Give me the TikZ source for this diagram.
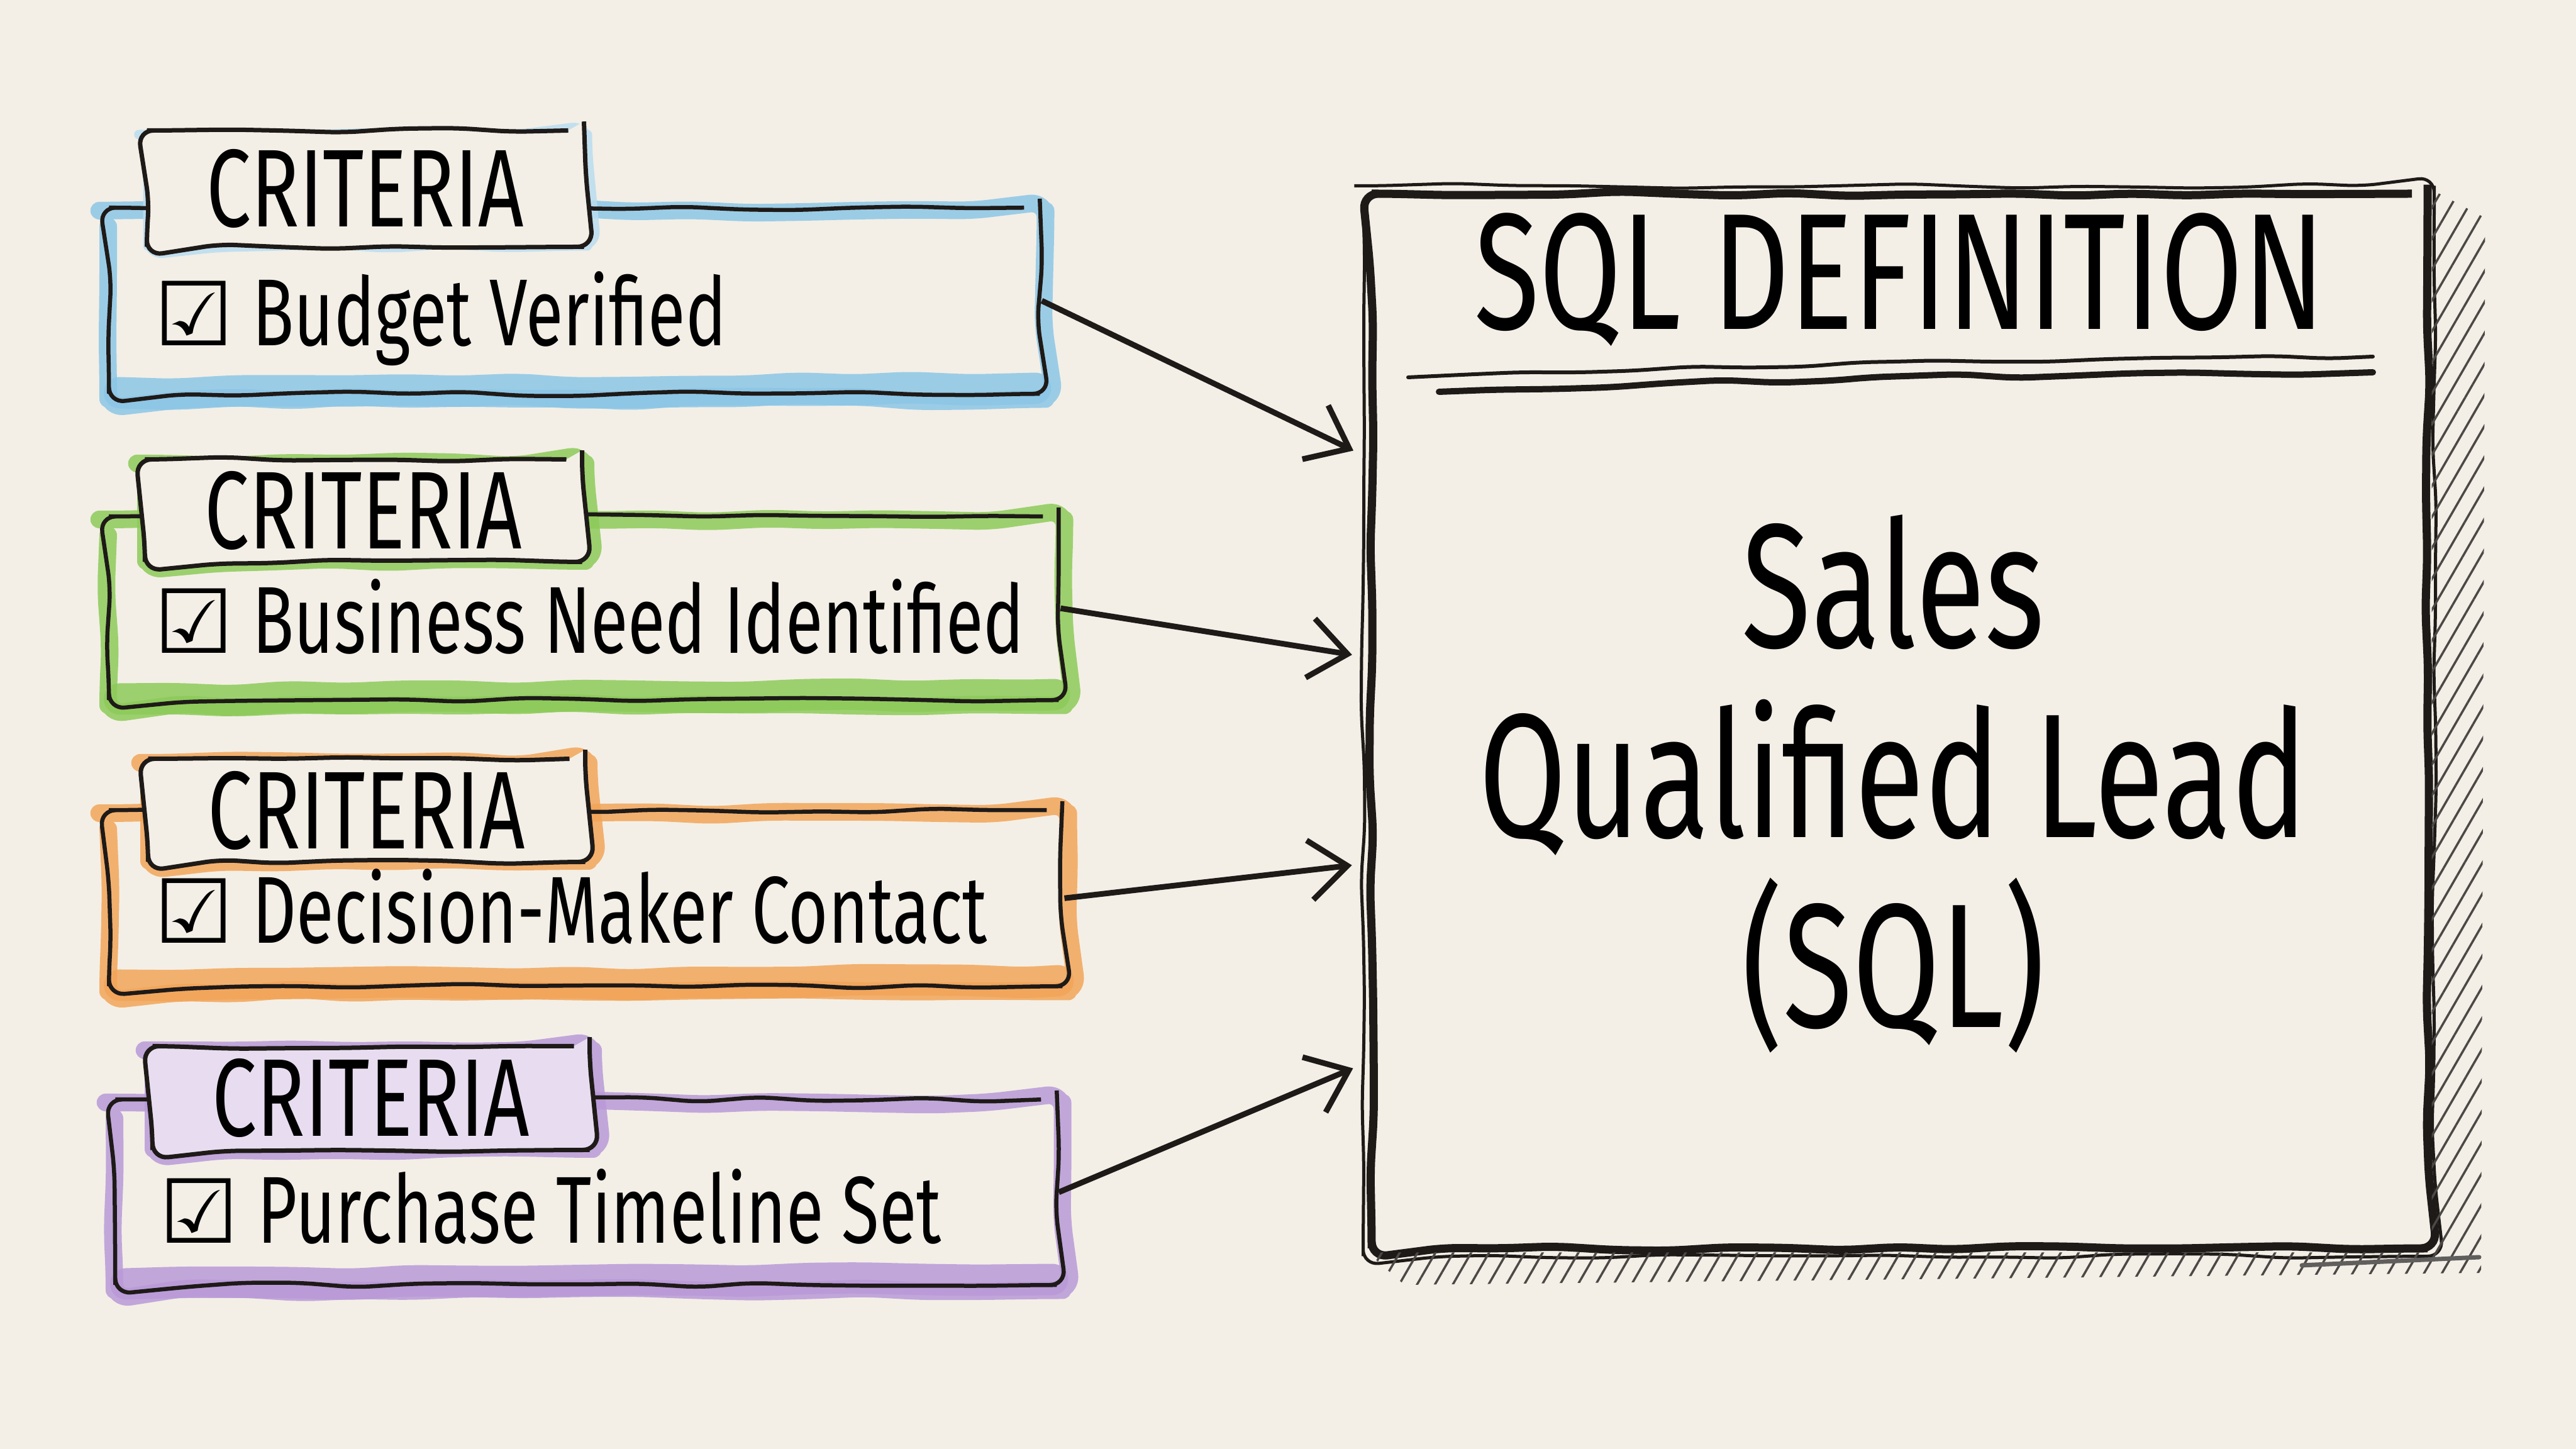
\documentclass[tikz,border=0pt]{standalone}
\usepackage{fontspec}
\newfontfamily\hand[FakeStretch=0.72]{Fira Sans}
\newfontfamily\boxfont{DejaVu Sans}
\usetikzlibrary{arrows.meta,calc,decorations.pathmorphing,patterns.meta,positioning}

\definecolor{paper}{HTML}{F3EFE6}
\definecolor{ink}{HTML}{1E1A18}
\definecolor{bluemk}{HTML}{8CC6E6}
\definecolor{greenmk}{HTML}{8DCB5A}
\definecolor{orangemk}{HTML}{F2A55A}
\definecolor{purplemk}{HTML}{B99AD8}
\definecolor{purpletab}{HTML}{E8DDF0}

\pgfdeclarelayer{paper}
\pgfdeclarelayer{marks}
\pgfsetlayers{paper,marks,main}

\newcommand{\chk}{{\boxfont\fontsize{40}{40}\selectfont ☑}\hspace{0.3cm}}

\tikzset{
  sketch/.style={decorate, decoration={random steps, segment length=0.9cm, amplitude=0.04cm}, rounded corners=0.25cm},
  marker/.style={line width=0.28cm, draw opacity=0.85, line cap=round, line join=round, sketch},
  critbox/.style={draw=ink, line width=0.065cm, anchor=north west, inner sep=0pt, sketch},
  tabbox/.style={draw=ink, fill=paper, line width=0.07cm, anchor=north west, inner sep=0pt,
    minimum width=6.95cm, font=\hand\fontsize{50}{54}\selectfont, sketch},
  itemtext/.style={anchor=base west, inner sep=0pt, font=\hand\fontsize{43}{47}\selectfont},
  sqlbox/.style={draw=ink, line width=0.13cm, minimum width=16.79cm, minimum height=16.77cm, inner sep=0pt, sketch},
  arr/.style={draw=ink, line width=0.09cm, shorten >=0.25cm,
    -{Straight Barb[length=0.6cm,width=0.95cm,line width=0.09cm]}},
}

\begin{document}
\pgfmathsetseed{7}
\begin{tikzpicture}
\useasboundingbox (0,0) rectangle (40.96,23.04);

% criteria cards
\node[critbox, minimum width=14.8cm, minimum height=2.96cm] (crit1) at (1.70,19.77) {};
\node[tabbox, minimum height=1.85cm] (tab1) at (2.30,21.0) {CRITERIA};
\node[itemtext] (item1) at ([xshift=0.75cm,yshift=0.8cm]crit1.south west) {\chk Budget Verified};

\node[critbox, minimum width=15.1cm, minimum height=2.92cm] (crit2) at (1.70,14.86) {};
\node[tabbox, minimum height=1.63cm] (tab2) at (2.27,15.77) {CRITERIA};
\node[itemtext] (item2) at ([xshift=0.75cm,yshift=0.78cm]crit2.south west) {\chk Business Need Identified};

\node[critbox, minimum width=15.16cm, minimum height=2.8cm] (crit3) at (1.70,10.19) {};
\node[tabbox, minimum height=1.64cm] (tab3) at (2.32,11.01) {CRITERIA};
\node[itemtext] (item3) at ([xshift=0.75cm,yshift=0.72cm]crit3.south west) {\chk Decision-Maker Contact};

\node[critbox, minimum width=14.97cm, minimum height=2.95cm] (crit4) at (1.80,5.59) {};
\node[tabbox, fill=purpletab, minimum height=1.65cm] (tab4) at (2.39,6.44) {CRITERIA};
\node[itemtext] (item4) at ([xshift=0.73cm,yshift=0.7cm]crit4.south west) {\chk Purchase Timeline Set};

% target box
\node[sqlbox] (sql) at (30.205,11.575) {};
\draw[ink, line width=0.05cm, sketch] ([shift={(-0.07,0.06)}]sql.north west) rectangle ([shift={(0.04,-0.06)}]sql.south east);
\node[anchor=base, inner sep=0pt, font=\hand\fontsize{75}{75}\selectfont] (sqltitle) at ([yshift=-2.22cm]sql.north) {SQL DEFINITION};
\draw[ink, line width=0.06cm, line cap=round, sketch] (22.39,17.04) -- (30.5,17.3) -- (37.73,17.37);
\draw[ink, line width=0.1cm, line cap=round, sketch] (22.88,16.81) -- (30.0,17.05) -- (37.73,17.12);
\node[align=center, inner sep=0pt, font=\hand\fontsize{80}{86}\selectfont] (sqlname) at ([xshift=-0.1cm,yshift=-1.0cm]sql.center) {Sales\\Qualified Lead\\(SQL)};

% hatched shadow
\fill[pattern={Lines[angle=60,distance=7pt,line width=1pt]}, pattern color=ink!80]
  (sql.north east) -- ++(0.85,-0.45) -- (39.45,2.8) -- (22.33,2.61) -- (sql.south west) -- (sql.south east) -- cycle;
\draw[ink!70, line width=0.07cm, line cap=round] (36.6,2.92) -- (39.42,3.05);

% arrows into the definition
\coordinate (in1) at ($(sql.north west)!0.252!(sql.south west)$);
\coordinate (in2) at ($(sql.north west)!0.44!(sql.south west)$);
\coordinate (in3) at ($(sql.north west)!0.634!(sql.south west)$);
\coordinate (in4) at ($(sql.north west)!0.821!(sql.south west)$);
\draw[arr] (crit1.east) -- (in1);
\draw[arr] (crit2.east) -- (in2);
\draw[arr] (crit3.east) -- (in3);
\draw[arr] (crit4.east) -- (in4);

% marker strokes
\begin{pgfonlayer}{marks}
\draw[marker, bluemk] ([shift={(0.02,-0.08)}]crit1.north west) rectangle ([shift={(0.06,-0.05)}]crit1.south east);
\draw[marker, bluemk, line width=0.5cm] ([shift={(0.2,0.05)}]crit1.south west) -- ([shift={(-0.1,0.12)}]crit1.south east);
\draw[marker, bluemk!60, line width=0.15cm] ([shift={(0.05,-0.1)}]tab1.north west) rectangle ([shift={(0.02,0.05)}]tab1.south east);
\draw[marker, greenmk] ([shift={(0.02,-0.08)}]crit2.north west) rectangle ([shift={(0.06,-0.05)}]crit2.south east);
\draw[marker, greenmk, line width=0.5cm] ([shift={(0.2,0.05)}]crit2.south west) -- ([shift={(-0.1,0.12)}]crit2.south east);
\draw[marker, greenmk] ([shift={(0.05,-0.1)}]tab2.north west) rectangle ([shift={(0.02,0.05)}]tab2.south east);
\draw[marker, orangemk] ([shift={(0.02,-0.08)}]crit3.north west) rectangle ([shift={(0.06,-0.05)}]crit3.south east);
\draw[marker, orangemk, line width=0.5cm] ([shift={(0.2,0.05)}]crit3.south west) -- ([shift={(-0.1,0.12)}]crit3.south east);
\draw[marker, orangemk] ([shift={(0.05,-0.1)}]tab3.north west) rectangle ([shift={(0.02,0.05)}]tab3.south east);
\draw[marker, purplemk] ([shift={(0.02,-0.08)}]crit4.north west) rectangle ([shift={(0.06,-0.05)}]crit4.south east);
\draw[marker, purplemk, line width=0.5cm] ([shift={(0.2,0.05)}]crit4.south west) -- ([shift={(-0.1,0.12)}]crit4.south east);
\draw[marker, purplemk] ([shift={(0.05,-0.1)}]tab4.north west) rectangle ([shift={(0.02,0.05)}]tab4.south east);
\end{pgfonlayer}

\begin{pgfonlayer}{paper}
\fill[paper] (0,0) rectangle (40.96,23.04);
\end{pgfonlayer}
\end{tikzpicture}
\end{document}
